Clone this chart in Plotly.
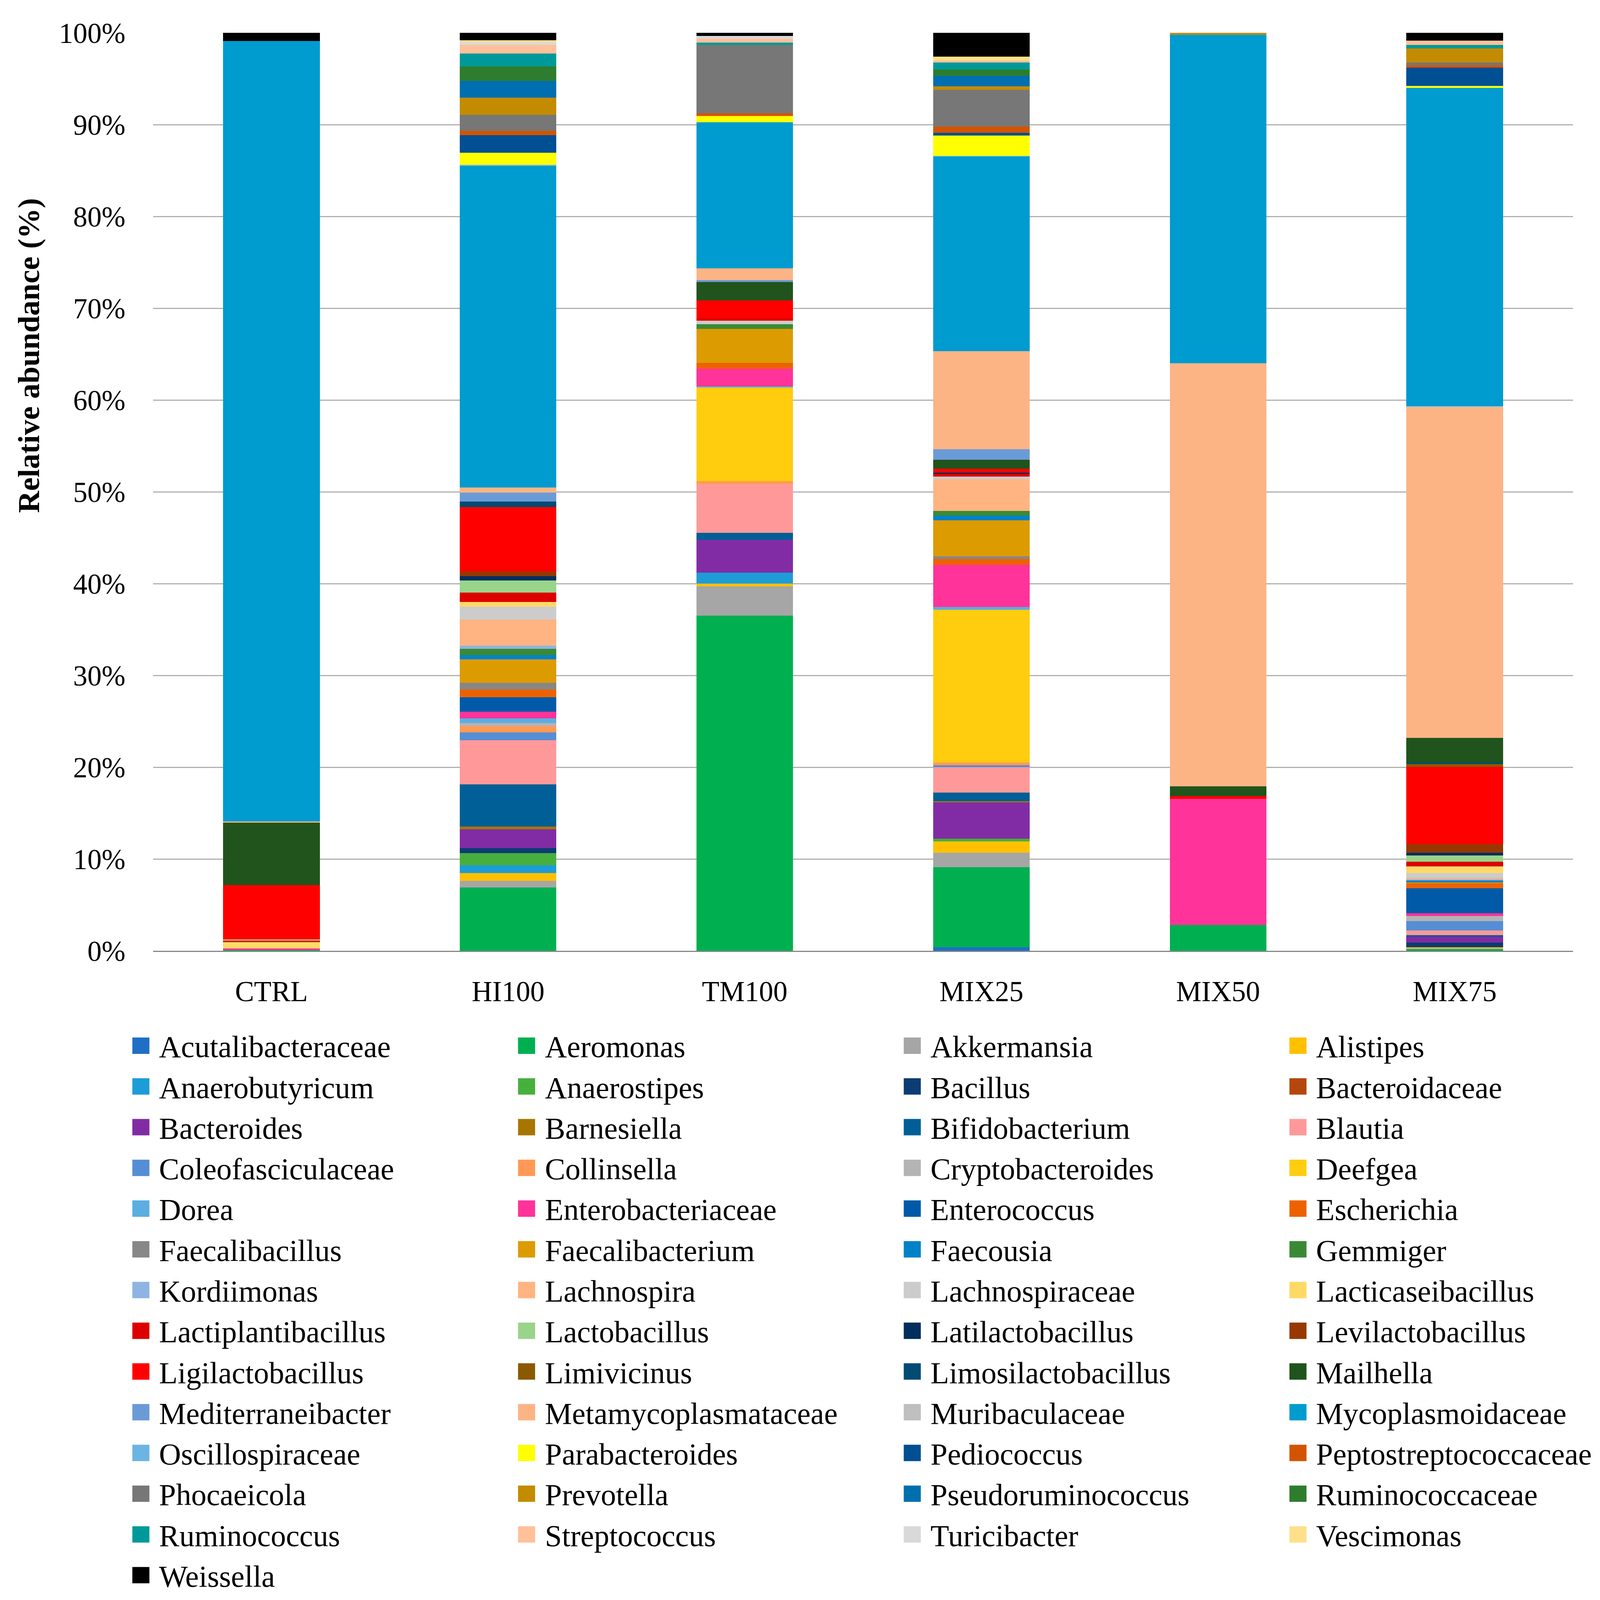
import plotly.graph_objects as go

samples = ["CTRL", "HI100", "TM100", "MIX25", "MIX50", "MIX75"]

taxa = [
    "Acutalibacteraceae", "Aeromonas", "Akkermansia", "Alistipes",
    "Anaerobutyricum", "Anaerostipes", "Bacillus", "Bacteroidaceae",
    "Bacteroides", "Barnesiella", "Bifidobacterium", "Blautia",
    "Coleofasciculaceae", "Collinsella", "Cryptobacteroides", "Deefgea",
    "Dorea", "Enterobacteriaceae", "Enterococcus", "Escherichia",
    "Faecalibacillus", "Faecalibacterium", "Faecousia", "Gemmiger",
    "Kordiimonas", "Lachnospira", "Lachnospiraceae", "Lacticaseibacillus",
    "Lactiplantibacillus", "Lactobacillus", "Latilactobacillus", "Levilactobacillus",
    "Ligilactobacillus", "Limivicinus", "Limosilactobacillus", "Mailhella",
    "Mediterraneibacter", "Metamycoplasmataceae", "Muribaculaceae", "Mycoplasmoidaceae",
    "Oscillospiraceae", "Parabacteroides", "Pediococcus", "Peptostreptococcaceae",
    "Phocaeicola", "Prevotella", "Pseudoruminococcus", "Ruminococcaceae",
    "Ruminococcus", "Streptococcus", "Turicibacter", "Vescimonas",
    "Weissella",
]

# relative abundance (%) per sample, same order as taxa
ctrl = [0, 0.1, 0, 0, 0, 0, 0, 0, 0, 0, 0, 0, 0, 0, 0, 0, 0, 0.15, 0, 0,
        0, 0, 0, 0, 0, 0, 0, 0.7, 0.15, 0.15, 0, 0, 5.9, 0, 0, 6.8, 0, 0.15, 0, 85.0,
        0, 0, 0, 0, 0, 0, 0, 0, 0, 0, 0, 0, 0.9]
hi100 = [0, 6.9, 0.7, 0.85, 0.85, 1.35, 0.55, 0, 2.05, 0.27, 4.6, 4.8, 0.85, 0.7, 0.33, 0, 0.5, 0.73, 1.6, 0.85,
         0.7, 2.55, 0.5, 0.65, 0.35, 2.85, 1.4, 0.5, 1.05, 1.3, 0.5, 0.5, 7.0, 0, 0.6, 0, 1.0, 0.55, 0, 35.0,
         0.15, 1.3, 1.9, 0.5, 1.75, 1.85, 1.85, 1.55, 1.4, 0.95, 0.3, 0.2, 0.8]
tm100 = [0, 36.5, 3.2, 0.3, 1.2, 0, 0, 0, 3.55, 0, 0.8, 5.3, 0, 0.3, 0, 10.2, 0.15, 1.9, 0, 0.65,
         0, 3.7, 0, 0.5, 0, 0, 0.4, 0, 0.25, 0, 0, 0, 1.95, 0, 0, 2.0, 0.2, 1.3, 0, 15.9,
         0, 0.7, 0, 0.3, 7.45, 0, 0, 0, 0.25, 0.4, 0.3, 0, 0.35]
mix25 = [0.4, 8.7, 1.6, 1.2, 0, 0.3, 0, 0, 3.95, 0.15, 0.95, 2.75, 0.2, 0.3, 0, 16.65, 0.3, 4.6, 0, 0.65,
         0.3, 3.9, 0.5, 0.5, 0, 3.45, 0.3, 0, 0.3, 0, 0.15, 0, 0.4, 0, 0, 1.0, 1.15, 10.65, 0, 21.2,
         0.1, 2.2, 0.3, 0.7, 4.0, 0.35, 1.15, 0.7, 0.75, 0.25, 0, 0.4, 2.6]
mix50 = [0, 2.8, 0, 0, 0, 0, 0, 0, 0, 0, 0, 0, 0, 0, 0, 0, 0, 13.75, 0, 0,
         0, 0, 0, 0, 0, 0, 0, 0, 0, 0, 0, 0, 0.3, 0, 0, 1.05, 0, 46.1, 0, 35.8,
         0, 0, 0, 0, 0, 0.2, 0, 0, 0, 0, 0, 0, 0]
mix75 = [0, 0.15, 0.1, 0.15, 0, 0, 0.5, 0, 0.65, 0, 0.15, 0.5, 1.05, 0, 0.55, 0, 0, 0.3, 2.7, 0.55,
         0, 0.1, 0.2, 0, 0.15, 0.15, 0.5, 0.75, 0.5, 0.7, 0.3, 0.9, 8.45, 0.3, 0.15, 2.7, 0, 36.0, 0.1, 34.7,
         0, 0.2, 2.0, 0.25, 0.3, 1.55, 0, 0, 0.4, 0.45, 0, 0, 0.9]

colors = [
    "#1f6fc5", "#00b050", "#a6a6a6", "#ffc000",
    "#1e9cd7", "#47b03c", "#0b3c74", "#b4470e",
    "#812ca5", "#a67700", "#005f96", "#ff9999",
    "#558ed5", "#ff9955", "#b4b4b4", "#ffcc0e",
    "#5baee0", "#ff3399", "#005aa8", "#ed6200",
    "#878787", "#dc9b00", "#0082c8", "#3a8a35",
    "#8eb4e3", "#ffb482", "#cccccc", "#ffd966",
    "#dd0000", "#99d48a", "#002e5e", "#963800",
    "#ff0000", "#8b5a00", "#004b74", "#20541c",
    "#6b9bd6", "#fdb485", "#bfbfbf", "#009bcf",
    "#6cb4e4", "#ffff00", "#004f93", "#d35400",
    "#777777", "#c38b00", "#006faf", "#2e7d2e",
    "#009999", "#ffc09a", "#d9d9d9", "#ffe08a",
    "#000000",
]

FONT = "Palatino Linotype, Book Antiqua, Palatino, Liberation Serif, serif"

# the page is shown in a 4096 px viewport and the body has an 8 px margin,
# so the 4310x4113 design is scaled onto the viewport and shifted back by 8 px
REF_W, REF_H = 4310, 4113
VIEW = 4096
OFF = 8
W = H = VIEW - OFF
sx, sy = VIEW / REF_W, VIEW / REF_H


def fx(x):
    return x * sx - OFF


def fy(y):
    return y * sy - OFF


# plot area in reference pixels
ref_left, ref_right, ref_top, ref_bottom = 412, 4237, 84, 2444
ml = fx(ref_left)
mr = W - fx(ref_right)
mt = fy(ref_top)
mb = H - fy(ref_bottom)
plot_w = W - ml - mr
plot_h = H - mt - mb


def px_to_paper_x(px):
    return (fx(px) - ml) / plot_w


def px_to_paper_y(py):
    return (H - mb - fy(py)) / plot_h


fig = go.Figure()
for i, name in enumerate(taxa):
    fig.add_trace(go.Bar(
        name=name,
        x=samples,
        y=[ctrl[i], hi100[i], tm100[i], mix25[i], mix50[i], mix75[i]],
        marker=dict(color=colors[i], line=dict(width=0)),
        showlegend=False,
    ))

# key under the plot: 4 columns of coloured squares + labels (reference px)
n_cols = 4
key_x0 = 379
key_dx = 1039
key_y0 = 2688
key_dy = 104.7
sq_w, sq_h = 46, 42
text_gap = 47

for i, name in enumerate(taxa):
    cx = key_x0 + (i % n_cols) * key_dx
    cy = key_y0 + (i // n_cols) * key_dy
    fig.add_shape(
        type="rect", xref="paper", yref="paper",
        x0=px_to_paper_x(cx - sq_w / 2), x1=px_to_paper_x(cx + sq_w / 2),
        y0=px_to_paper_y(cy + sq_h / 2), y1=px_to_paper_y(cy - sq_h / 2),
        fillcolor=colors[i], line=dict(width=0),
    )
    fig.add_annotation(
        text=name, xref="paper", yref="paper",
        x=px_to_paper_x(cx + text_gap), y=px_to_paper_y(cy + 3),
        xanchor="left", yanchor="middle", showarrow=False,
        font=dict(family=FONT, size=78, color="#000000"),
    )

# y-axis title (sits above the middle of the axis in the original)
fig.add_annotation(
    text="<b>Relative abundance (%)</b>", xref="paper", yref="paper",
    x=px_to_paper_x(77), y=px_to_paper_y(914),
    xanchor="center", yanchor="middle", textangle=-90, showarrow=False,
    font=dict(family=FONT, size=78, color="#000000"),
)

fig.update_layout(
    barmode="stack",
    bargap=0.592,
    width=W,
    height=H,
    margin=dict(l=ml, r=mr, t=mt, b=mb, autoexpand=False),
    plot_bgcolor="white",
    paper_bgcolor="white",
    font=dict(family=FONT, size=73, color="#000000"),
    showlegend=False,
)

fig.update_xaxes(
    showline=True,
    linecolor="#868686",
    linewidth=3,
    showgrid=False,
    ticks="",
    ticklabelstandoff=38,
    tickfont=dict(family=FONT, size=73),
)

yticks = list(range(0, 101, 10))
fig.update_yaxes(
    range=[0, 100],
    tickvals=yticks,
    ticktext=[f"{v}%" for v in yticks],
    showgrid=True,
    gridcolor="#b3b0b0",
    gridwidth=3,
    zeroline=False,
    ticks="",
    ticklabelstandoff=70,
    automargin=False,
    tickfont=dict(family=FONT, size=73),
)

fig.write_html("out.html")
